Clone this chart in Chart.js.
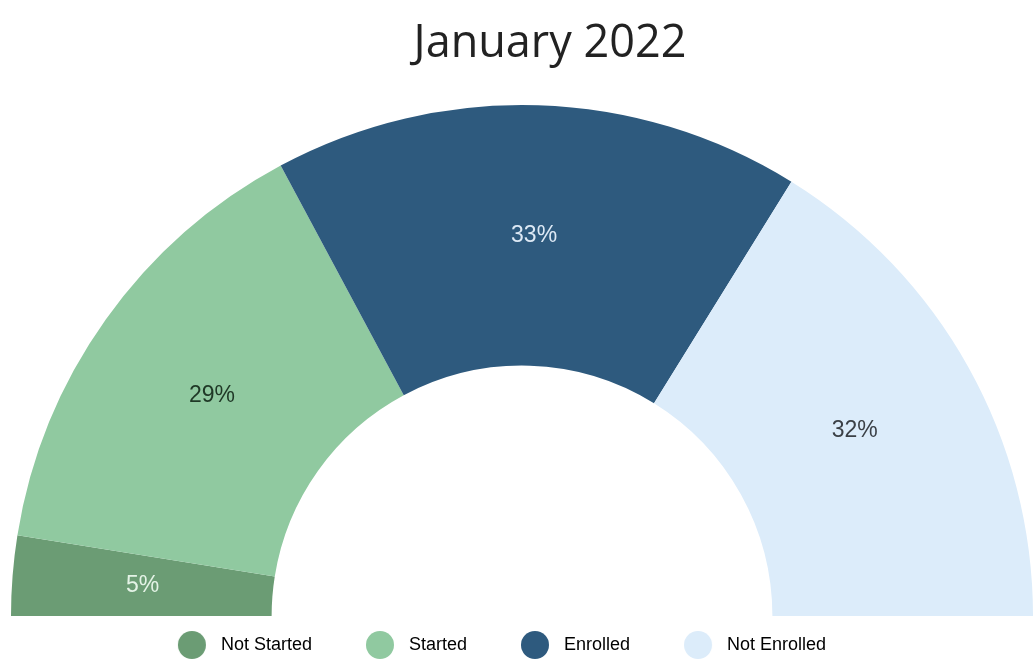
<!DOCTYPE html>
<html>
<head>
<meta charset="utf-8">
<title>January 2022</title>
<script src="https://cdn.jsdelivr.net/npm/chart.js@4"></script>
<style>
  html, body { margin: 0; padding: 0; background: #fff; overflow: hidden; }
  #wrap { width: 1033px; height: 666px; }
</style>
</head>
<body>
<div id="wrap"><canvas id="enrollment-chart"></canvas></div>
<script>
const labels = ["Not Started", "Started", "Enrolled", "Not Enrolled"];
const shares = [5, 29, 33, 32];
const colors = ["#6b9c74", "#90c9a0", "#2e5a7e", "#dcecfa"];
const labelColors = ["#e4f3e6", "#1f3826", "#dde9f5", "#3b4046"];

// circle marker for the legend, drawn on the right side of a wider slot
function legendDot(color) {
    const c = document.createElement("canvas");
    c.width = 60;
    c.height = 30;
    const g = c.getContext("2d");
    g.fillStyle = color;
    g.beginPath();
    g.arc(44, 15, 14, 0, Math.PI * 2);
    g.fill();
    return c;
}

// writes the percentage in the middle of each slice
const sliceLabels = {
    id: "sliceLabels",
    afterDatasetsDraw(chart) {
        const { ctx } = chart;
        const meta = chart.getDatasetMeta(0);
        ctx.save();
        ctx.font = "23px 'Liberation Sans', Arial, sans-serif";
        ctx.textAlign = "center";
        ctx.textBaseline = "middle";
        meta.data.forEach((arc, i) => {
            const pos = arc.tooltipPosition();
            ctx.fillStyle = labelColors[i];
            ctx.fillText(shares[i] + "%", pos.x, pos.y);
        });
        ctx.restore();
    },
};

// title sits a bit right of the arc centre, legend a bit left
const nudge = {
    id: "nudge",
    afterLayout(chart) {
        if (chart.titleBlock) {
            chart.titleBlock.left += 28;
            chart.titleBlock.right += 28;
        }
        if (chart.legend) {
            chart.legend.left -= 37;
            chart.legend.right -= 37;
        }
    },
};

const ctx = document.getElementById("enrollment-chart");

new Chart(ctx, {
    type: "doughnut",
    data: {
        labels,
        datasets: [
            {
                data: shares,
                backgroundColor: colors,
                borderWidth: 0,
            },
        ],
    },
    options: {
        responsive: true,
        maintainAspectRatio: false,
        animation: false,
        rotation: -90,
        circumference: 180,
        cutout: "49%",
        layout: {
            padding: { left: 11, right: 0, top: 0, bottom: 2 },
        },
        plugins: {
            title: {
                display: true,
                text: "January 2022",
                color: "#222",
                font: { family: "'Open Sans', sans-serif", size: 45, weight: "normal" },
                padding: { top: 17, bottom: 34 },
            },
            legend: {
                position: "bottom",
                labels: {
                    usePointStyle: true,
                    pointStyleWidth: 68,
                    padding: 20,
                    color: "#333",
                    font: { family: "'Liberation Sans', Arial, sans-serif", size: 18 },
                    generateLabels(chart) {
                        return labels.map((text, i) => ({
                            text,
                            fillStyle: colors[i],
                            strokeStyle: colors[i],
                            lineWidth: 0,
                            pointStyle: legendDot(colors[i]),
                            hidden: false,
                            index: i,
                        }));
                    },
                },
            },
            tooltip: { enabled: false },
        },
    },
    plugins: [sliceLabels, nudge],
});
</script>
</body>
</html>
